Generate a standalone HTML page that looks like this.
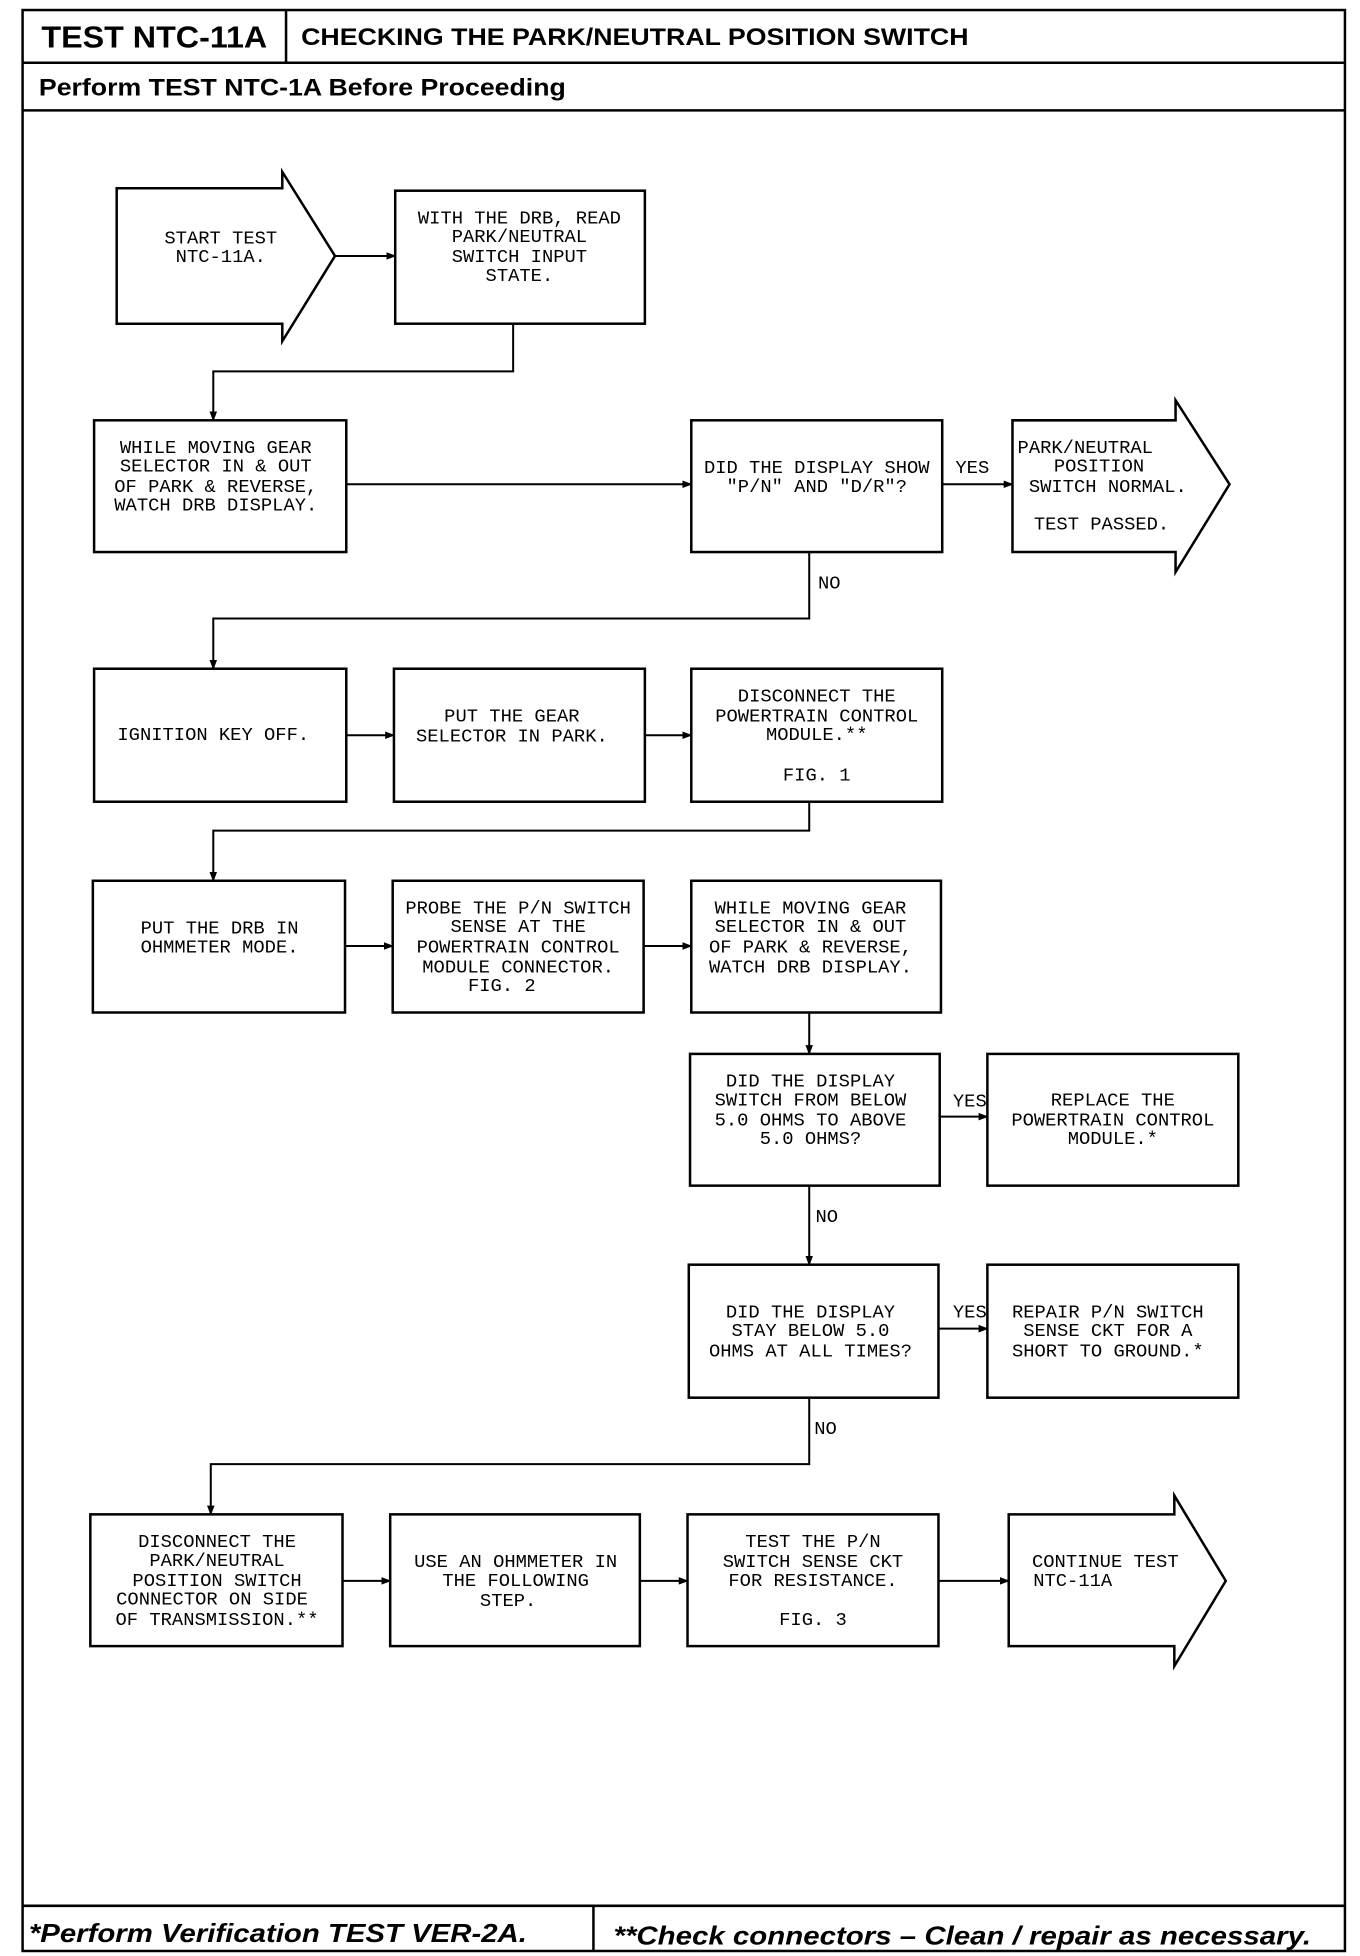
<!DOCTYPE html>
<html><head><meta charset="utf-8"><style>
html,body{margin:0;padding:0;background:#fff;}
svg{display:block;}
.t{font-family:"Liberation Mono",monospace;font-size:15px;fill:#000;text-anchor:middle;}
.h{font-family:"Liberation Sans",sans-serif;font-weight:bold;fill:#000;}
</style></head><body>
<svg width="1360" height="1956" viewBox="0 0 1084 1559" preserveAspectRatio="none" xmlns="http://www.w3.org/2000/svg">
<defs><marker id="a" markerWidth="8" markerHeight="8" refX="7" refY="4" orient="auto" markerUnits="userSpaceOnUse"><path d="M0,1 L8,4 L0,7 Z" fill="#000"/></marker></defs>
<g fill="none" stroke="#000" stroke-width="2">
<rect x="18" y="8" width="1054" height="1547"/>
<line x1="18" y1="50" x2="1072" y2="50"/>
<line x1="228" y1="8" x2="228" y2="50"/>
<line x1="18" y1="88" x2="1072" y2="88"/>
<line x1="18" y1="1519" x2="1072" y2="1519"/>
<line x1="473" y1="1519" x2="473" y2="1555"/>

<polygon points="93,150 225,150 225,137 267,204 225,272 225,258 93,258"/>
<rect x="315" y="152" width="199" height="106"/>
<rect x="75" y="335" width="201" height="105"/>
<rect x="551" y="335" width="200" height="105"/>
<polygon points="807,335 937,335 937,319 980,386 937,456 937,440 807,440"/>
<rect x="75" y="533" width="201" height="106"/>
<rect x="314" y="533" width="200" height="106"/>
<rect x="551" y="533" width="200" height="106"/>
<rect x="74" y="702" width="201" height="105"/>
<rect x="313" y="702" width="200" height="105"/>
<rect x="551" y="702" width="199" height="105"/>
<rect x="550" y="840" width="199" height="105"/>
<rect x="787" y="840" width="200" height="105"/>
<rect x="549" y="1008" width="199" height="106"/>
<rect x="787" y="1008" width="200" height="106"/>
<rect x="72" y="1207" width="201" height="105"/>
<rect x="311" y="1207" width="199" height="105"/>
<rect x="548" y="1207" width="200" height="105"/>
<polygon points="804,1207 936,1207 936,1192 977,1260 936,1328 936,1312 804,1312"/>
</g>
<g fill="none" stroke="#000" stroke-width="1.6" marker-end="url(#a)">
<line x1="267" y1="204" x2="315" y2="204"/>
<polyline points="409,258 409,296 170,296 170,335"/>
<line x1="276" y1="386" x2="551" y2="386"/>
<line x1="751" y1="386" x2="807" y2="386"/>
<polyline points="645,440 645,493 170,493 170,533"/>
<line x1="276" y1="586" x2="314" y2="586"/>
<line x1="514" y1="586" x2="551" y2="586"/>
<polyline points="645,639 645,662 170,662 170,702"/>
<line x1="275" y1="754" x2="313" y2="754"/>
<line x1="513" y1="754" x2="551" y2="754"/>
<line x1="645" y1="807" x2="645" y2="840"/>
<line x1="749" y1="890" x2="787" y2="890"/>
<line x1="645" y1="945" x2="645" y2="1008"/>
<line x1="748" y1="1059" x2="787" y2="1059"/>
<polyline points="645,1114 645,1167 168,1167 168,1207"/>
<line x1="273" y1="1260" x2="311" y2="1260"/>
<line x1="510" y1="1260" x2="548" y2="1260"/>
<line x1="748" y1="1260" x2="804" y2="1260"/>
</g>
<text class="h" x="33" y="38" font-size="24" textLength="180" lengthAdjust="spacingAndGlyphs">TEST NTC-11A</text>
<text class="h" x="240" y="36" font-size="19" textLength="532" lengthAdjust="spacingAndGlyphs">CHECKING THE PARK/NEUTRAL POSITION SWITCH</text>
<text class="h" x="31" y="76" font-size="19" textLength="420" lengthAdjust="spacingAndGlyphs">Perform TEST NTC-1A Before Proceeding</text>
<text class="h" x="23" y="1548" font-size="21" font-style="italic" textLength="397" lengthAdjust="spacingAndGlyphs">*Perform Verification TEST VER-2A.</text>
<text class="h" x="489" y="1550" font-size="21" font-style="italic" textLength="556" lengthAdjust="spacingAndGlyphs">**Check connectors – Clean / repair as necessary.</text>

<g class="t">
<text x="176" y="194">START TEST</text><text x="176" y="209">NTC-11A.</text>
<text x="414" y="178">WITH THE DRB, READ</text><text x="414" y="193">PARK/NEUTRAL</text><text x="414" y="209">SWITCH INPUT</text><text x="414" y="224">STATE.</text>
<text x="172" y="361">WHILE MOVING GEAR</text><text x="172" y="376">SELECTOR IN &amp; OUT</text><text x="172" y="392">OF PARK &amp; REVERSE,</text><text x="172" y="407">WATCH DRB DISPLAY.</text>
<text x="651" y="377">DID THE DISPLAY SHOW</text><text x="651" y="392">"P/N" AND "D/R"?</text>
<text x="775" y="377">YES</text>
<text x="865" y="361">PARK/NEUTRAL</text><text x="876" y="376">POSITION</text><text x="883" y="392">SWITCH NORMAL.</text><text x="878" y="422">TEST PASSED.</text>
<text x="661" y="469">NO</text>
<text x="170" y="590">IGNITION KEY OFF.</text>
<text x="408" y="575">PUT THE GEAR</text><text x="408" y="591">SELECTOR IN PARK.</text>
<text x="651" y="559">DISCONNECT THE</text><text x="651" y="575">POWERTRAIN CONTROL</text><text x="651" y="590">MODULE.**</text><text x="651" y="622">FIG. 1</text>
<text x="175" y="744">PUT THE DRB IN</text><text x="175" y="759">OHMMETER MODE.</text>
<text x="413" y="728">PROBE THE P/N SWITCH</text><text x="413" y="743">SENSE AT THE</text><text x="413" y="759">POWERTRAIN CONTROL</text><text x="413" y="775">MODULE CONNECTOR.</text><text x="400" y="790">FIG. 2</text>
<text x="646" y="728">WHILE MOVING GEAR</text><text x="646" y="743">SELECTOR IN &amp; OUT</text><text x="646" y="759">OF PARK &amp; REVERSE,</text><text x="646" y="775">WATCH DRB DISPLAY.</text>
<text x="646" y="866">DID THE DISPLAY</text><text x="646" y="881">SWITCH FROM BELOW</text><text x="646" y="897">5.0 OHMS TO ABOVE</text><text x="646" y="912">5.0 OHMS?</text>
<text x="773" y="882">YES</text>
<text x="887" y="881">REPLACE THE</text><text x="887" y="897">POWERTRAIN CONTROL</text><text x="887" y="912">MODULE.*</text>
<text x="659" y="974">NO</text>
<text x="646" y="1050">DID THE DISPLAY</text><text x="646" y="1065">STAY BELOW 5.0</text><text x="646" y="1081">OHMS AT ALL TIMES?</text>
<text x="773" y="1050">YES</text>
<text x="883" y="1050">REPAIR P/N SWITCH</text><text x="883" y="1065">SENSE CKT FOR A</text><text x="883" y="1081">SHORT TO GROUND.*</text>
<text x="658" y="1143">NO</text>
<text x="173" y="1233">DISCONNECT THE</text><text x="173" y="1248">PARK/NEUTRAL</text><text x="173" y="1264">POSITION SWITCH</text><text x="169" y="1279">CONNECTOR ON SIDE</text><text x="173" y="1295">OF TRANSMISSION.**</text>
<text x="411" y="1249">USE AN OHMMETER IN</text><text x="411" y="1264">THE FOLLOWING</text><text x="405" y="1280">STEP.</text>
<text x="648" y="1233">TEST THE P/N</text><text x="648" y="1249">SWITCH SENSE CKT</text><text x="648" y="1264">FOR RESISTANCE.</text><text x="648" y="1295">FIG. 3</text>
<text x="881" y="1249">CONTINUE TEST</text><text x="855" y="1264">NTC-11A</text>
</g>
</svg>
</body></html>
